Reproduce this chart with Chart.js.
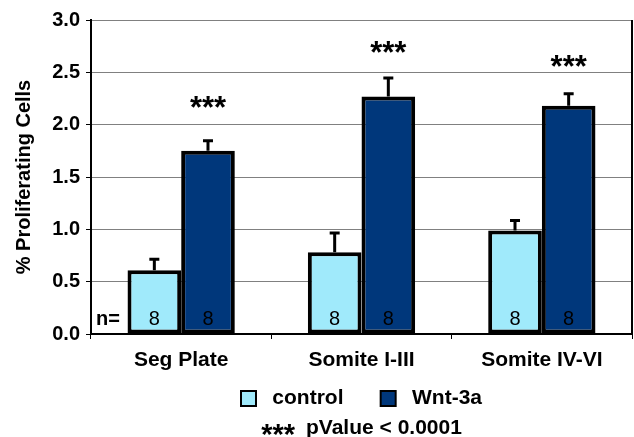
<!DOCTYPE html>
<html lang="en">
<head>
  <meta charset="UTF-8">
  <title>Proliferating Cells</title>
  <script src="https://cdn.jsdelivr.net/npm/chart.js"></script>
  <style>
    html, body { margin: 0; padding: 0; background: #fff; }
    #wrap { width: 634px; height: 437px; }
  </style>
</head>
<body>
  <div id="wrap"><canvas id="chart"></canvas></div>

  <script>
    const categories = ['Seg Plate', 'Somite I-III', 'Somite IV-VI'];
    const controlValues = [0.61, 0.78, 0.99];
    const controlErrors = [0.11, 0.19, 0.10];
    const wntValues = [1.75, 2.27, 2.18];
    const wntErrors = [0.10, 0.18, 0.12];
    const nLabels = ['8', '8', '8'];
    const starLevels = [2.20, 2.73, 2.59]; // where the *** sit
    const yTicks = [0, 0.5, 1, 1.5, 2, 2.5, 3];
    const footStars = '***';
    const footText = 'pValue < 0.0001';

    const FONT = 'Arial, "Liberation Sans", sans-serif';

    // asterisks sit high in the line, shift so they are centred on cy
    function drawStars(ctx, text, x, cy, size, align) {
      ctx.font = 'bold ' + size + 'px ' + FONT;
      ctx.textAlign = align;
      ctx.textBaseline = 'alphabetic';
      ctx.fillText(text, x, cy + size * 0.47);
    }

    // error bars, n labels, stars, footnote and right frame line
    const extras = {
      id: 'extras',
      afterDatasetsDraw(chart) {
        const ctx = chart.ctx;
        const y = chart.scales.y;
        const area = chart.chartArea;
        const errs = [controlErrors, wntErrors];
        const vals = [controlValues, wntValues];

        ctx.save();
        ctx.strokeStyle = '#000';
        ctx.fillStyle = '#000';
        chart.data.datasets.forEach((ds, di) => {
          const meta = chart.getDatasetMeta(di);
          meta.data.forEach((bar, i) => {
            const top = y.getPixelForValue(vals[di][i]);
            const end = y.getPixelForValue(vals[di][i] + errs[di][i]);
            ctx.lineWidth = 3;
            ctx.beginPath();
            ctx.moveTo(bar.x, top);
            ctx.lineTo(bar.x, end);
            ctx.moveTo(bar.x - 5, end + 0.5);
            ctx.lineTo(bar.x + 5, end + 0.5);
            ctx.stroke();

            ctx.font = '20px ' + FONT;
            ctx.textAlign = 'center';
            ctx.textBaseline = 'middle';
            ctx.fillText(nLabels[i], bar.x, y.getPixelForValue(0) - 15);

            if (di === 1) {
              drawStars(ctx, '***', bar.x, y.getPixelForValue(starLevels[i]), 31, 'center');
            }
          });
        });

        ctx.font = 'bold 20px ' + FONT;
        ctx.textAlign = 'center';
        ctx.textBaseline = 'middle';
        ctx.fillText('n=', area.left + 17, y.getPixelForValue(0) - 15);

        ctx.lineWidth = 2;
        ctx.beginPath();
        ctx.moveTo(area.right, area.top);
        ctx.lineTo(area.right, area.bottom);
        ctx.stroke();

        // footnote under the legend
        const fy = chart.height - 9;
        ctx.font = 'bold 29px ' + FONT;
        const sw = ctx.measureText(footStars).width;
        ctx.font = 'bold 21px ' + FONT;
        const tw = ctx.measureText(footText).width;
        const gap = 11;
        const x0 = (area.left + area.right) / 2 - (sw + gap + tw) / 2;
        drawStars(ctx, footStars, x0, fy + 2, 29, 'left');
        ctx.font = 'bold 21px ' + FONT;
        ctx.textAlign = 'left';
        ctx.textBaseline = 'middle';
        ctx.fillText(footText, x0 + sw + gap, fy);
        ctx.restore();
      }
    };

    new Chart(document.getElementById('chart'), {
      type: 'bar',
      data: {
        labels: categories,
        datasets: [
          {
            label: 'control',
            data: controlValues,
            backgroundColor: '#A0EAFB',
            borderColor: '#000',
            borderWidth: 4,
            borderSkipped: false
          },
          {
            label: 'Wnt-3a',
            data: wntValues,
            backgroundColor: '#00377B',
            borderColor: '#000',
            borderWidth: 4,
            borderSkipped: false
          }
        ]
      },
      options: {
        responsive: true,
        maintainAspectRatio: false,
        animation: false,
        layout: { padding: { top: 20, right: 2, left: 0, bottom: 18 } },
        datasets: {
          bar: { categoryPercentage: 0.595, barPercentage: 1.0 }
        },
        scales: {
          x: {
            afterFit(scale) { scale.height = 46; },
            grid: {
              offset: true,
              drawOnChartArea: false,
              drawTicks: true,
              tickLength: 5,
              tickColor: '#000',
              tickWidth: 1
            },
            border: { color: '#000', width: 2 },
            ticks: {
              color: '#000',
              font: { family: FONT, size: 21, weight: 'bold' },
              padding: 9
            }
          },
          y: {
            min: 0,
            max: 3,
            afterFit(scale) { scale.width = 91; },
            afterBuildTicks(scale) {
              scale.ticks = yTicks.map(v => ({ value: v }));
            },
            grid: {
              color: '#808080',
              lineWidth: 1,
              drawTicks: true,
              tickLength: 5,
              tickColor: '#000'
            },
            border: { color: '#000', width: 2 },
            ticks: {
              color: '#000',
              font: { family: FONT, size: 20, weight: 'bold' },
              padding: 6,
              callback: v => Number(v).toFixed(1)
            },
            title: {
              display: true,
              text: '% Proliferating Cells',
              color: '#000',
              font: { family: FONT, size: 20, weight: 'bold' },
              padding: { top: 12, bottom: 0 }
            }
          }
        },
        plugins: {
          legend: {
            position: 'bottom',
            fullSize: false,
            labels: {
              color: '#000',
              boxWidth: 15,
              boxHeight: 15,
              padding: 8,
              font: { family: FONT, size: 21, weight: 'bold' },
              generateLabels(chart) {
                const n = chart.data.datasets.length;
                return chart.data.datasets.map((ds, i) => ({
                  text: ' ' + ds.label + (i < n - 1 ? '     ' : ''),
                  fillStyle: ds.backgroundColor,
                  strokeStyle: '#000',
                  lineWidth: 2,
                  fontColor: '#000',
                  datasetIndex: i
                }));
              }
            }
          },
          tooltip: { enabled: false }
        }
      },
      plugins: [extras]
    });
  </script>
</body>
</html>
